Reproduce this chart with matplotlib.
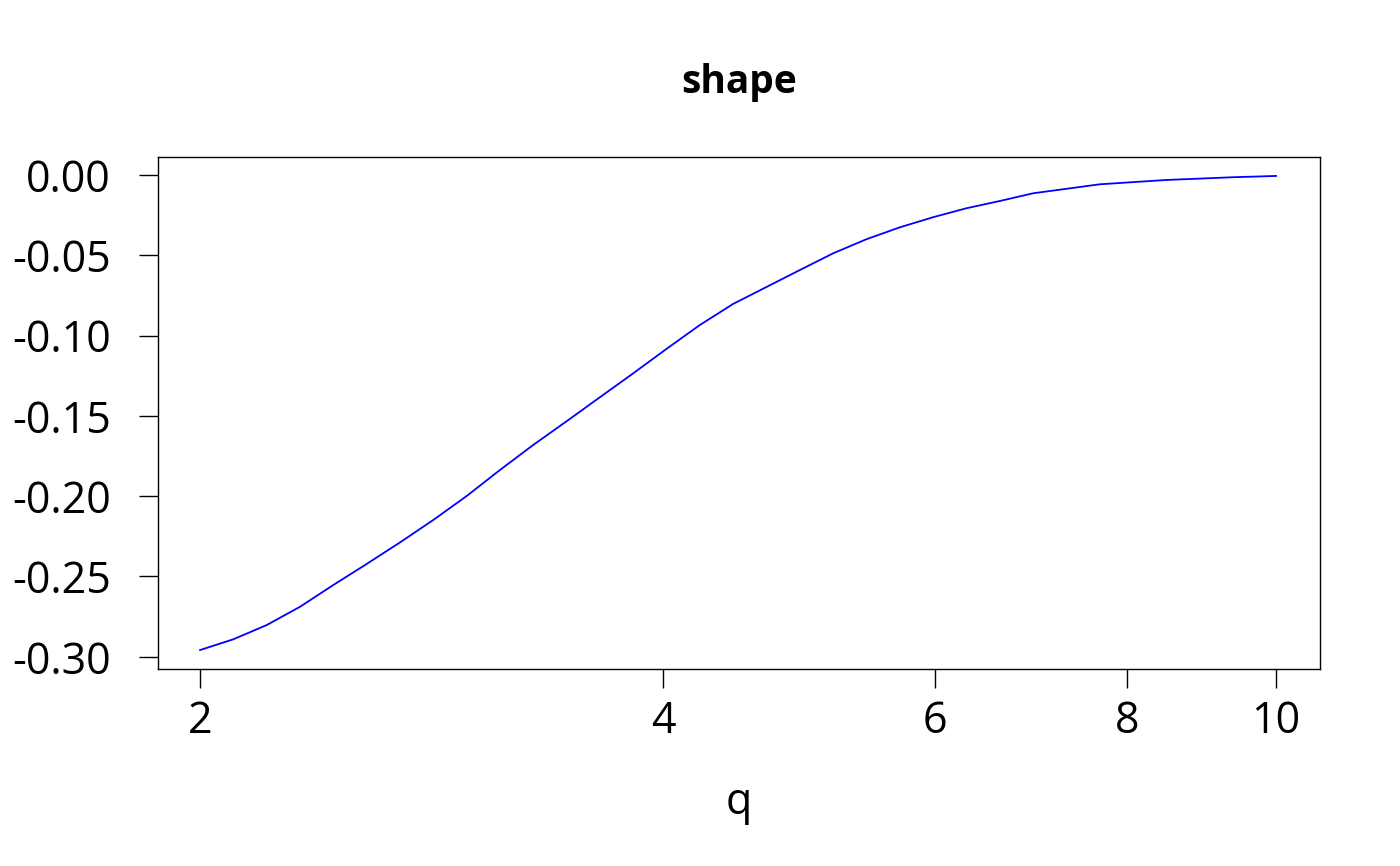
import matplotlib
matplotlib.use("Agg")
import matplotlib.pyplot as plt
from matplotlib.ticker import FixedLocator, FixedFormatter, NullLocator

plt.rcParams['font.family'] = ['Open Sans', 'Noto Sans', 'DejaVu Sans']

# values
q = [2.0, 2.102, 2.210, 2.323, 2.441, 2.566, 2.697, 2.835, 2.980, 3.132,
     3.292, 3.469, 3.637, 3.823, 4.018, 4.224, 4.439, 4.905, 5.155, 5.419,
     5.696, 5.987, 6.294, 6.615, 6.953, 7.682, 8.487, 9.377, 10.0]
shape = [-0.2958, -0.2891, -0.2802, -0.2688, -0.2553, -0.2422, -0.2288,
         -0.2148, -0.1999, -0.1837, -0.1681, -0.1526, -0.1384, -0.1235,
         -0.1083, -0.0934, -0.0803, -0.0592, -0.0488, -0.0400, -0.0326,
         -0.0263, -0.0207, -0.0162, -0.0114, -0.0058, -0.0031, -0.0014,
         -0.0006]

xticks = [2, 4, 6, 8, 10]
xticklabels = ["2", "4", "6", "8", "10"]
yticks = [0.00, -0.05, -0.10, -0.15, -0.20, -0.25, -0.30]
yticklabels = ["0.00", "-0.05", "-0.10", "-0.15", "-0.20", "-0.25", "-0.30"]

fig = plt.figure(figsize=(14, 8.66), dpi=100)
ax = fig.add_axes([158/1400, 1 - 669/866, (1320 - 158)/1400, (669 - 157)/866])

ax.plot(q, shape, color="blue", lw=1.3)

ax.set_xscale("log")
ax.set_xlim(1.878, 10.68)
ax.set_ylim(-0.3076, 0.0112)

ax.xaxis.set_major_locator(FixedLocator(xticks))
ax.xaxis.set_major_formatter(FixedFormatter(xticklabels))
ax.xaxis.set_minor_locator(NullLocator())
ax.set_yticks(yticks)
ax.set_yticklabels(yticklabels)

ax.tick_params(axis="both", direction="out", length=14, width=1.0,
               labelsize=31, color="black")
ax.tick_params(axis="x", pad=8)
ax.tick_params(axis="y", pad=20)
for s in ax.spines.values():
    s.set_linewidth(1.0)

ax.set_xlabel("q", fontsize=31, labelpad=26)
fig.text(739/1400, 1 - 82/866, "shape", ha="center", va="center",
         fontsize=28, fontweight="bold")

fig.savefig("out.png", dpi=100)
